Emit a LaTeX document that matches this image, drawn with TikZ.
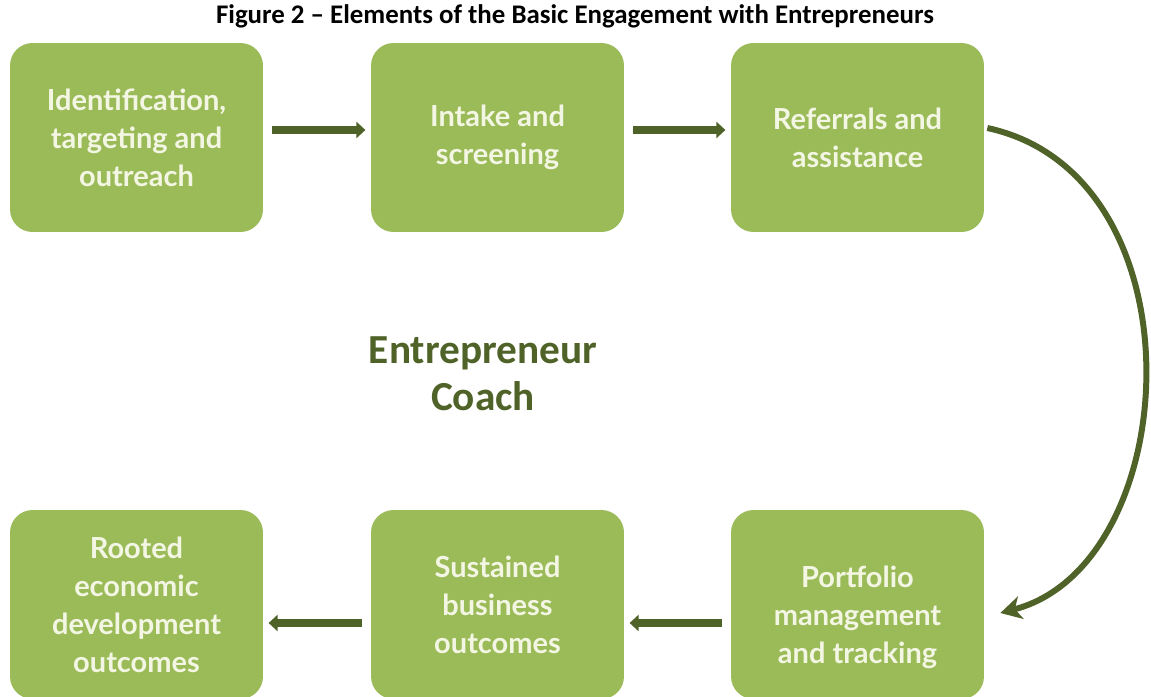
\documentclass[tikz,border=0pt]{standalone}
\usepackage{fontspec}
\setmainfont{Carlito}
\newfontfamily\boxfont{Lato}
\usepackage{xcolor}
\definecolor{stagegreen}{HTML}{9BBB59}
\definecolor{stagetext}{HTML}{F4F6E4}
\definecolor{flowdark}{HTML}{4F6228}
\usetikzlibrary{arrows.meta,positioning}

\begin{document}
\begin{tikzpicture}[
  x=0.02cm,y=-0.02cm,
  stage/.style={fill=stagegreen,draw=none,rounded corners=0.45cm,minimum width=5.06cm,
    minimum height=3.78cm,text=stagetext,align=center,
    font=\boxfont\bfseries\fontsize{16.5}{21.6}\selectfont},
  flow/.style={draw=flowdark,line width=4pt,-{Triangle[length=1.8mm,width=3.2mm]}},
  loop/.style={draw=flowdark,line width=3.4pt,-{Stealth[length=4.2mm,width=4.6mm,inset=1.2mm]}}
]
  \useasboundingbox (0,0) rectangle (1151,696);
  % Title
  \node[font=\bfseries\fontsize{15.3}{18}\selectfont] (title) at (575,16)
    {Figure 2 -- Elements of the Basic Engagement with Entrepreneurs};
  % Top row
  \node[stage] (ident) at (136.5,137.5) {Identification,\\targeting and\\outreach};
  \node[stage] (intake) at (497.5,137.5) {Intake and\\screening};
  \node[stage] (refer) at (857.5,137.5) {Referrals and\\assistance};
  % Bottom row
  \node[stage] (rooted) at (136.5,604.5) {Rooted\\economic\\development\\outcomes};
  \node[stage] (sustain) at (497.5,604.5) {Sustained\\business\\outcomes};
  \node[stage,text height=2.48cm] (portf) at (857.5,604.5) {Portfolio\\management\\and tracking};
  % Centre label
  \node[text=flowdark,align=center,font=\bfseries\fontsize{23.5}{27}\selectfont] (coach)
    at (483,374) {Entrepreneur\\Coach};
  % Arrows between stages
  \draw[flow,shorten <=5pt,shorten >=3pt] ([yshift=0.15cm]ident.east) -- ([yshift=0.15cm]intake.west);
  \draw[flow,shorten <=5pt,shorten >=3pt] ([yshift=0.15cm]intake.east) -- ([yshift=0.15cm]refer.west);
  \draw[flow,shorten <=5pt,shorten >=3pt] ([yshift=-0.37cm]portf.west) -- ([yshift=-0.37cm]sustain.east);
  \draw[flow,shorten <=5pt,shorten >=3pt] ([yshift=-0.37cm]sustain.west) -- ([yshift=-0.37cm]rooted.east);
  % Loop from the top row down to the bottom row
  \coordinate (loopin) at ([xshift=0.32cm,yshift=-0.17cm]portf.east);
  \draw[loop] ([xshift=0.06cm,yshift=0.19cm]refer.east)
    .. controls (1205,175) and (1185,565) .. (loopin);
\end{tikzpicture}
\end{document}
